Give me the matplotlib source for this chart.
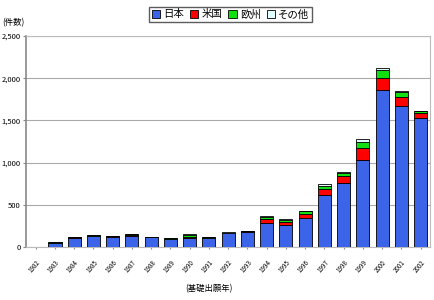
import numpy as np
import matplotlib
matplotlib.use('Agg')
import matplotlib.pyplot as plt

plt.rcParams['font.family'] = ['Noto Sans CJK JP', 'DejaVu Sans']

# data
years = [str(y) for y in range(1982, 2003)]
japan = [0, 45, 105, 125, 120, 135, 112, 92, 111, 100, 160, 182, 285, 260, 345, 620, 763, 1027, 1857, 1667, 1533]
usa = [0, 6, 8, 8, 7, 10, 5, 5, 10, 8, 6, 8, 45, 40, 40, 65, 80, 150, 150, 110, 55]
europe = [0, 5, 4, 5, 2, 4, 2, 4, 22, 8, 3, 2, 22, 20, 35, 38, 35, 70, 87, 60, 20]
other = [0, 3, 2, 2, 1, 1, 0, 2, 7, 3, 2, 2, 10, 8, 10, 18, 15, 33, 32, 15, 8]
series = [japan, usa, europe, other]
labels = ['日本', '米国', '欧州', 'その他']
colors = ['#3b64e8', '#ff0000', '#10e010', '#e0ffff']

fig = plt.figure(figsize=(4.35, 3.0), dpi=100)
ax = fig.add_axes([0.06, 0.177, 0.929, 0.703])

x = np.arange(len(years))
bottom = np.zeros(len(years))
for vals, lab, col in zip(series, labels, colors):
    ax.bar(x, vals, 0.68, bottom=bottom, color=col, edgecolor='black', linewidth=0.6, label=lab, zorder=3)
    bottom += np.array(vals)

ax.set_xlim(-0.5, len(years) - 0.5)
ax.set_ylim(0, 2500)
ax.set_yticks(np.arange(0, 2501, 500))
ax.set_yticklabels(['0', '500', '1,000', '1,500', '2,000', '2,500'], fontsize=5.5)
ax.yaxis.grid(True, color='#aaaaaa', linewidth=0.8, zorder=0)
ax.set_xticks(x)
ax.set_xticklabels(years, rotation=50, ha='right', fontsize=4.5, rotation_mode='anchor')
ax.tick_params(axis='x', length=1.5, pad=7, color='#888888')
ax.tick_params(axis='y', length=2, pad=2, color='#888888')
for s in ['top', 'right', 'bottom']:
    ax.spines[s].set_color('#bbbbbb')
    ax.spines[s].set_linewidth(0.8)
ax.spines['left'].set_color('#888888')
ax.spines['left'].set_linewidth(1.2)

fig.text(0.005, 0.915, '(件数)', fontsize=6)
fig.text(0.48, 0.03, '(基礎出願年)', fontsize=6, ha='center')

fig.legend(loc='upper center', bbox_to_anchor=(0.53, 0.995), ncol=4, fontsize=7.5,
           frameon=True, fancybox=False, edgecolor='#333333', handlelength=0.8,
           handleheight=0.8, handletextpad=0.3, columnspacing=0.6, borderpad=0.25)

fig.savefig('out.png', dpi=100)
